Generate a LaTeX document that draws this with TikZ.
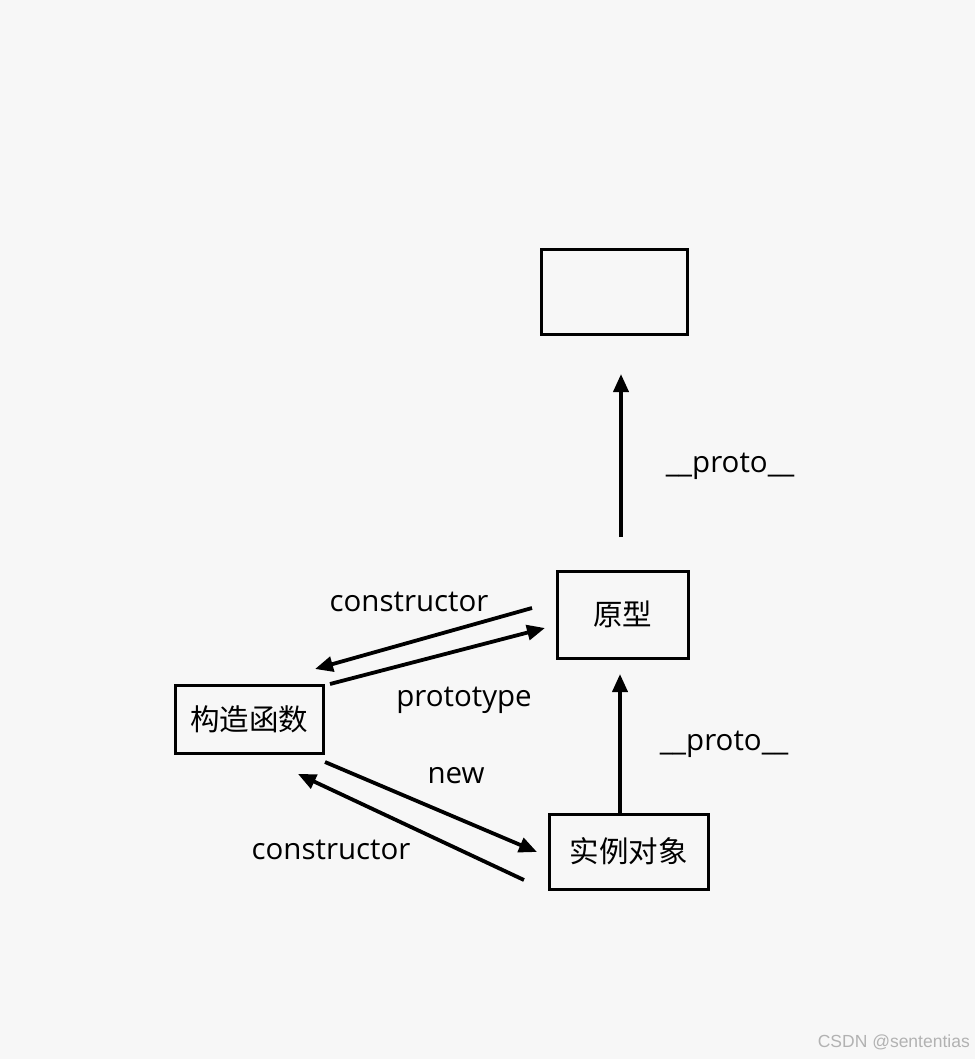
\documentclass[tikz,border=0pt]{standalone}
\usepackage{fontspec}
\setmainfont{Open Sans}
\newfontfamily\cjk{Noto Sans CJK SC}
\newfontfamily\wm{Liberation Sans}
\usetikzlibrary{arrows.meta}
\definecolor{bg}{HTML}{F7F7F7}
\tikzset{
  box/.style={draw=black, line width=3pt, fill=none, inner sep=0pt, font=\cjk\fontsize{29.5}{31}\selectfont},
  link/.style={line width=3.8pt, -{Triangle[length=18pt,width=15pt]}},
  lbl/.style={font=\fontsize{29.5}{31}\selectfont, inner sep=0pt}
}
\begin{document}
\begin{tikzpicture}[x=1pt,y=-1pt]
\fill[bg] (0,0) rectangle (975,1059);
\useasboundingbox (0,0) rectangle (975,1059);
% boxes
\node[box, minimum width=146pt, minimum height=85pt] (top) at (614,291.5) {};
\node[box, minimum width=131pt, minimum height=87pt] (proto) at (622.5,614.5) {原型};
\node[box, minimum width=148pt, minimum height=68pt] (ctor) at (249,719) {构造函数};
\node[box, minimum width=159pt, minimum height=75pt] (inst) at (628.5,851.5) {实例对象};
% arrow end points
\coordinate (a1s) at (621,537);
\coordinate (a1e) at (621,374);
\coordinate (a2s) at (620,814);
\coordinate (a2e) at (620,674);
\coordinate (c1s) at (532,608);
\coordinate (c1e) at (315,669);
\coordinate (p1s) at (330,684);
\coordinate (p1e) at (545,628);
\coordinate (n1s) at (325,762);
\coordinate (n1e) at (537,852);
\coordinate (c2s) at (524,880);
\coordinate (c2e) at (298,774);
\draw[link] (a1s) -- (a1e);
\draw[link] (a2s) -- (a2e);
\draw[link] (c1s) -- (c1e);
\draw[link] (p1s) -- (p1e);
\draw[link] (n1s) -- (n1e);
\draw[link] (c2s) -- (c2e);
% labels
\node[lbl] (l1) at (730,466) {\_\_proto\_\_};
\node[lbl] (l2) at (724,744) {\_\_proto\_\_};
\node[lbl] (l3) at (409,602) {constructor};
\node[lbl] (l4) at (464,700) {prototype};
\node[lbl] (l5) at (456,776) {new};
\node[lbl] (l6) at (331,850) {constructor};
\node[anchor=east, inner sep=0pt, text=black!30, font=\wm\fontsize{17.5}{19}\selectfont] (wm) at (970,1042) {CSDN @sententias};
\end{tikzpicture}
\end{document}
